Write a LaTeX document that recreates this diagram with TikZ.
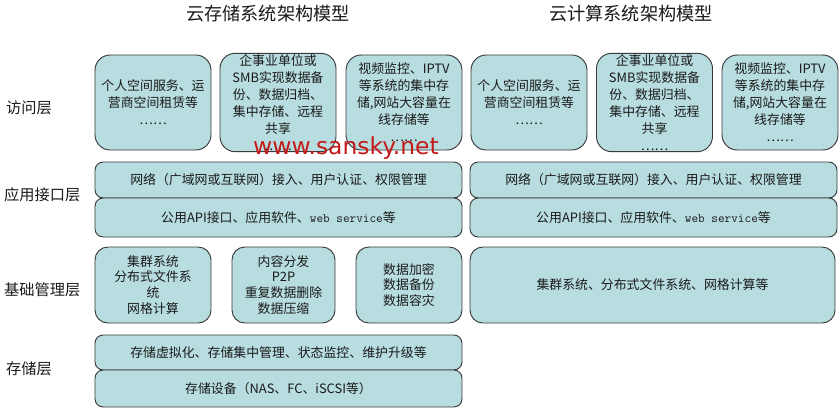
\documentclass[tikz,border=0pt]{standalone}
\usepackage{fontspec}
\setmainfont{Noto Sans CJK SC}
\newfontfamily\wmfont{DejaVu Sans}
\usepackage{tikz}
\usetikzlibrary{positioning}
\definecolor{BoxFill}{HTML}{B8DDE0}
\definecolor{BoxLine}{HTML}{3A3A3A}
\definecolor{TextDark}{HTML}{1A1A1A}
\definecolor{MarkRed}{HTML}{C41A1A}
\tikzset{
  % Box styles
  accessbox/.style={rectangle, rounded corners=13pt, draw=BoxLine, fill=BoxFill, line width=0.8pt, minimum width=3.48cm, minimum height=2.85cm, inner sep=1pt, text=TextDark, font=\fontsize{11}{14.5}\selectfont, align=center},
  widebox/.style={rectangle, rounded corners=7pt, draw=BoxLine, fill=BoxFill, line width=0.8pt, minimum width=11.01cm, minimum height=1.1cm, inner sep=1pt, text=TextDark, font=\fontsize{11}{13}\selectfont, align=center},
  mgmtbox/.style={rectangle, rounded corners=11pt, draw=BoxLine, fill=BoxFill, line width=0.8pt, minimum height=2.28cm, inner sep=1pt, text=TextDark, font=\fontsize{11}{13.6}\selectfont, align=center},
  % Text styles
  layerlabel/.style={anchor=west, text=TextDark, font=\fontsize{13}{15}\selectfont},
  titletext/.style={text=TextDark, font=\fontsize{15.5}{18}\selectfont}
}

\begin{document}
\begin{tikzpicture}[x=0.03cm, y=-0.03cm]
  \useasboundingbox (0,0) rectangle (839,408);

  % Titles
  \node[titletext] (storTitle) at (268,14) {云存储系统架构模型};
  \node[titletext] (compTitle) at (631,14) {云计算系统架构模型};

  % Layer labels
  \node[layerlabel] (lblAccess) at (2,108) {访问层};
  \node[layerlabel] (lblApi) at (0,195) {应用接口层};
  \node[layerlabel] (lblBase) at (0,290) {基础管理层};
  \node[layerlabel] (lblStore) at (2,369) {存储层};

  % Access layer
  \node[accessbox] (acc1) at (153,102.5) {个人空间服务、运\\营商空间租赁等\\……};
  \node[accessbox] (acc2) at (278,102.5) {企事业单位或\\SMB实现数据备\\份、数据归档、\\集中存储、远程\\共享\\……};
  \node[accessbox] (acc3) at (404,102.5) {视频监控、IPTV\\等系统的集中存\\储,网站大容量在\\线存储等\\……};
  \node[accessbox] (acc4) at (529,102.5) {个人空间服务、运\\营商空间租赁等\\……};
  \node[accessbox] (acc5) at (654.5,102.5) {企事业单位或\\SMB实现数据备\\份、数据归档、\\集中存储、远程\\共享\\……};
  \node[accessbox] (acc6) at (780,102.5) {视频监控、IPTV\\等系统的集中存\\储,网站大容量在\\线存储等\\……};

  % Application interface layer
  \node[widebox, minimum height=1.08cm] (storNet) at (278.5,180) {网络（广域网或互联网）接入、用户认证、权限管理};
  \node[widebox, minimum height=1.17cm] (storApi) at (278.5,217.5) {公用API接口、应用软件、{\ttfamily web service}等};
  \node[widebox, minimum height=1.08cm] (compNet) at (653.5,180) {网络（广域网或互联网）接入、用户认证、权限管理};
  \node[widebox, minimum height=1.17cm] (compApi) at (653.5,217.5) {公用API接口、应用软件、{\ttfamily web service}等};

  % Base management layer
  \node[mgmtbox, minimum width=3.48cm] (mgmt1) at (153,285) {集群系统\\分布式文件系\\统\\网格计算};
  \node[mgmtbox, minimum width=3.09cm] (mgmt2) at (283.5,285) {内容分发\\P2P\\重复数据删除\\数据压缩};
  \node[mgmtbox, minimum width=3.18cm] (mgmt3) at (409,285) {数据加密\\数据备份\\数据容灾};
  \node[mgmtbox, minimum width=10.95cm] (compMgmt) at (652.5,285) {集群系统、分布式文件系统、网格计算等};

  % Storage layer
  \node[widebox, minimum height=1.05cm] (storVirt) at (278.5,352.5) {存储虚拟化、存储集中管理、状态监控、维护升级等};
  \node[widebox, minimum height=1.11cm] (storDev) at (278.5,388.5) {存储设备（NAS、FC、iSCSI等）};

  % Watermark
  \node[anchor=base, text=MarkRed, font=\wmfont\fontsize{20}{22}\selectfont] (mark) at (346,154) {www.sansky.net};
\end{tikzpicture}
\end{document}
